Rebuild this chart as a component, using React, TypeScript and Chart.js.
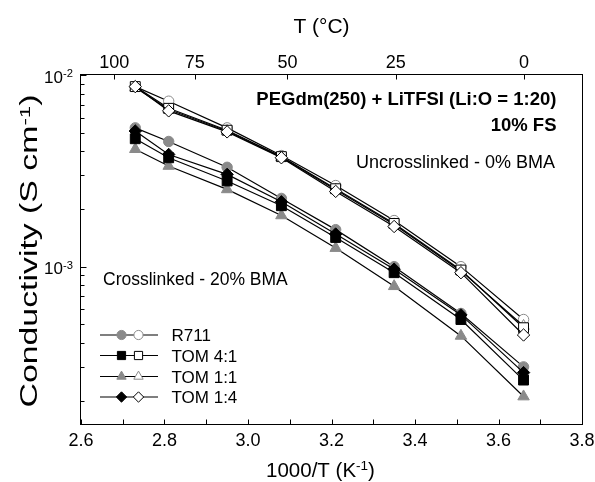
import React, { useEffect, useRef } from 'react';
import { Chart, registerables } from 'chart.js';

Chart.register(...registerables);

// ---- data ----
const invTemp = [2.73, 2.81, 2.95, 3.08, 3.21, 3.35, 3.51, 3.66];
const seriesNames = ['R711', 'TOM 4:1', 'TOM 1:1', 'TOM 1:4'];

// crosslinked (20% BMA) — filled markers
const crossR711 = [5.3e-3, 4.5e-3, 3.3e-3, 2.27e-3, 1.56e-3, 1.0e-3, 5.7e-4, 3.0e-4];
const crossTOM41 = [4.65e-3, 3.7e-3, 2.8e-3, 2.08e-3, 1.42e-3, 9.3e-4, 5.3e-4, 2.56e-4];
const crossTOM11 = [4.1e-3, 3.35e-3, 2.53e-3, 1.85e-3, 1.25e-3, 7.9e-4, 4.35e-4, 2.1e-4];
const crossTOM14 = [5.1e-3, 3.85e-3, 3.03e-3, 2.18e-3, 1.48e-3, 9.7e-4, 5.6e-4, 2.8e-4];

// uncrosslinked (0% BMA) — open markers
const unR711 = [8.7e-3, 7.3e-3, 5.3e-3, 3.8e-3, 2.65e-3, 1.74e-3, 1.0e-3, 5.3e-4];
const unTOM41 = [8.7e-3, 6.7e-3, 5.15e-3, 3.75e-3, 2.55e-3, 1.68e-3, 9.6e-4, 4.8e-4];
const unTOM11 = [8.6e-3, 6.6e-3, 5.1e-3, 3.72e-3, 2.52e-3, 1.66e-3, 9.5e-4, 4.9e-4];
const unTOM14 = [8.7e-3, 6.5e-3, 5.05e-3, 3.7e-3, 2.47e-3, 1.62e-3, 9.3e-4, 4.4e-4];

// ---- ticks ----
const xMajorTicks = [2.6, 2.8, 3.0, 3.2, 3.4, 3.6, 3.8];
const xMinorTicks = [2.7, 2.9, 3.1, 3.3, 3.5, 3.7];
const topTempTicks = [100, 75, 50, 25, 0];
const yDecadeExponents = [-3, -2];
const yMinorMantissas = [2, 3, 4, 5, 6, 7, 8, 9];

const X_MIN = 2.6;
const X_MAX = 3.8;
const Y_MIN = 1.51e-4;
const Y_MAX = 1e-2;

const GRAY = '#8a8a8a';
const FAM = '"Liberation Sans", Arial, Helvetica, sans-serif';

type Marker = { style: string; color: string; r: number; lr: number };
const markers: Marker[] = [
  { style: 'circle', color: GRAY, r: 5.2, lr: 4.6 },
  { style: 'rect', color: '#000', r: 7, lr: 5.8 },
  { style: 'triangle', color: GRAY, r: 6.6, lr: 5.4 },
  { style: 'rectRot', color: '#000', r: 6.2, lr: 5.2 },
];

type Part = { t: string; sup?: boolean };

function drawRich(
  ctx: CanvasRenderingContext2D,
  parts: Part[],
  x: number,
  y: number,
  align: 'left' | 'center' | 'right',
  size: number,
  bold = false,
  stretch = 1
) {
  const w = bold ? 'bold ' : '';
  const supSize = size * 0.66;
  const widths = parts.map((p) => {
    ctx.font = `${w}${p.sup ? supSize : size}px ${FAM}`;
    return ctx.measureText(p.t).width;
  });
  const total = widths.reduce((a, b) => a + b, 0) * stretch;
  let cx = align === 'left' ? x : align === 'center' ? x - total / 2 : x - total;
  ctx.textAlign = 'left';
  ctx.textBaseline = 'alphabetic';
  ctx.fillStyle = '#000';
  parts.forEach((p, i) => {
    ctx.font = `${w}${p.sup ? supSize : size}px ${FAM}`;
    const yy = p.sup ? y - size * 0.32 : y;
    ctx.save();
    ctx.translate(cx, yy);
    ctx.scale(stretch, 1);
    ctx.fillText(p.t, 0, 0);
    ctx.restore();
    cx += widths[i] * stretch;
  });
  return total;
}

function drawMarker(
  ctx: CanvasRenderingContext2D,
  m: Marker,
  x: number,
  y: number,
  r: number,
  filled: boolean
) {
  ctx.beginPath();
  if (m.style === 'circle') {
    ctx.arc(x, y, r, 0, Math.PI * 2);
  } else if (m.style === 'rect') {
    const s = Math.SQRT1_2 * r;
    ctx.rect(x - s, y - s, 2 * s, 2 * s);
  } else if (m.style === 'triangle') {
    ctx.moveTo(x, y - r);
    ctx.lineTo(x + 0.866 * r, y + 0.5 * r);
    ctx.lineTo(x - 0.866 * r, y + 0.5 * r);
    ctx.closePath();
  } else {
    ctx.moveTo(x - r, y);
    ctx.lineTo(x, y - r);
    ctx.lineTo(x + r, y);
    ctx.lineTo(x, y + r);
    ctx.closePath();
  }
  ctx.fillStyle = filled ? m.color : '#fff';
  ctx.fill();
  ctx.strokeStyle = m.color;
  ctx.lineWidth = 1;
  ctx.stroke();
}

const decorPlugin = {
  id: 'decor',
  afterDraw(chart: any) {
    const { ctx, chartArea: a, scales } = chart;
    const xs = scales.x;
    const ys = scales.y;
    ctx.save();
    ctx.strokeStyle = '#000';
    ctx.lineWidth = 1;
    const L = Math.round(a.left) - 0.5;
    const R = Math.round(a.right) + 0.5;
    const T = Math.round(a.top) - 0.5;
    const B = Math.round(a.bottom) + 0.5;
    ctx.strokeRect(L, T, R - L, B - T);

    ctx.beginPath();
    // bottom ticks
    [...xMajorTicks, ...xMinorTicks].forEach((v) => {
      const px = Math.round(xs.getPixelForValue(v)) + 0.5;
      ctx.moveTo(px, B);
      ctx.lineTo(px, B - 5);
    });
    // top ticks (temperature)
    topTempTicks.forEach((t) => {
      const px = Math.round(xs.getPixelForValue(1000 / (t + 273.15))) + 0.5;
      ctx.moveTo(px, T);
      ctx.lineTo(px, T + 5);
    });
    // left ticks
    yDecadeExponents.forEach((e) => {
      const py = Math.round(ys.getPixelForValue(Math.pow(10, e))) + 0.5;
      ctx.moveTo(L, py);
      ctx.lineTo(L + 6, py);
      if (e < -2) {
        yMinorMantissas.forEach((m) => {
          const v = m * Math.pow(10, e);
          const v2 = m * Math.pow(10, e - 1);
          [v, v2].forEach((vv) => {
            if (vv >= Y_MIN && vv <= Y_MAX) {
              const p = Math.round(ys.getPixelForValue(vv)) + 0.5;
              ctx.moveTo(L, p);
              ctx.lineTo(L + 4, p);
            }
          });
        });
      }
    });
    ctx.stroke();

    // bottom tick labels
    xMajorTicks.forEach((v) => {
      drawRich(ctx, [{ t: v.toFixed(1) }], xs.getPixelForValue(v), 445.5, 'center', 18);
    });
    // top tick labels
    topTempTicks.forEach((t) => {
      drawRich(ctx, [{ t: String(t) }], xs.getPixelForValue(1000 / (t + 273.15)), 68, 'center', 18);
    });
    // y tick labels
    yDecadeExponents.forEach((e) => {
      const py = ys.getPixelForValue(Math.pow(10, e));
      drawRich(ctx, [{ t: '10' }, { t: String(e), sup: true }], 73, py + 7.5, 'right', 17);
    });

    // axis titles
    drawRich(ctx, [{ t: 'T (°C)' }], 321.5, 33, 'center', 21);
    drawRich(ctx, [{ t: '1000/T (K' }, { t: '-1', sup: true }, { t: ')' }], 320.5, 477, 'center', 20.5);
    ctx.save();
    ctx.translate(37, 251);
    ctx.rotate(-Math.PI / 2);
    const parts: Part[] = [{ t: 'Conductivity (S cm' }, { t: '-1', sup: true }, { t: ')' }];
    ctx.font = `23px ${FAM}`;
    let nat = 0;
    parts.forEach((p) => {
      ctx.font = `${p.sup ? 23 * 0.66 : 23}px ${FAM}`;
      nat += ctx.measureText(p.t).width;
    });
    drawRich(ctx, parts, 0, 0, 'center', 23, false, 313 / nat);
    ctx.restore();

    // annotations
    drawRich(ctx, [{ t: 'PEGdm(250) + LiTFSI (Li:O = 1:20)' }], 556.5, 104.5, 'right', 18.5, true);
    drawRich(ctx, [{ t: '10% FS' }], 556.5, 130.5, 'right', 18.5, true);
    drawRich(ctx, [{ t: 'Uncrosslinked - 0% BMA' }], 555, 168, 'right', 18);
    drawRich(ctx, [{ t: 'Crosslinked - 20% BMA' }], 103, 285, 'left', 17.5);

    // legend
    const rowMarkerY = [335, 355.5, 376.5, 397];
    seriesNames.forEach((name, i) => {
      const y = rowMarkerY[i];
      ctx.beginPath();
      ctx.strokeStyle = '#000';
      ctx.lineWidth = 1.2;
      ctx.moveTo(100, y);
      ctx.lineTo(158, y);
      ctx.stroke();
      drawMarker(ctx, markers[i], 121.5, y, markers[i].lr, true);
      drawMarker(ctx, markers[i], 138.5, y, markers[i].lr, false);
      drawRich(ctx, [{ t: name }], 171.5, y + 6.3, 'left', 17);
    });
    ctx.restore();
  },
};

function makeDataset(values: number[], mi: number, filled: boolean) {
  const m = markers[mi];
  return {
    label: seriesNames[mi] + (filled ? ' crosslinked' : ' uncrosslinked'),
    data: invTemp.map((x, i) => ({ x, y: values[i] })),
    borderColor: '#000',
    borderWidth: 1.2,
    pointStyle: m.style,
    pointRadius: m.r,
    pointBackgroundColor: filled ? m.color : '#fff',
    pointBorderColor: m.color,
    pointBorderWidth: 1,
    tension: 0,
    fill: false,
  };
}

export default function App() {
  const ref = useRef<HTMLCanvasElement | null>(null);
  useEffect(() => {
    if (!ref.current) return;
    const chart = new Chart(ref.current, {
      type: 'line',
      data: {
        datasets: [
          makeDataset(crossTOM14, 3, true),
          makeDataset(crossTOM41, 1, true),
          makeDataset(crossTOM11, 2, true),
          makeDataset(crossR711, 0, true),
          makeDataset(unTOM14, 3, false),
          makeDataset(unTOM41, 1, false),
          makeDataset(unTOM11, 2, false),
          makeDataset(unR711, 0, false),
        ] as any,
      },
      options: {
        animation: false,
        responsive: false,
        devicePixelRatio: 1,
        layout: { padding: { left: 81, right: 13, top: 75, bottom: 58 } },
        plugins: { legend: { display: false }, tooltip: { enabled: false } },
        scales: {
          x: { type: 'linear', min: X_MIN, max: X_MAX, display: false },
          y: { type: 'logarithmic', min: Y_MIN, max: Y_MAX, display: false },
        },
      } as any,
      plugins: [decorPlugin],
    });
    return () => chart.destroy();
  }, []);
  return (
    <div style={{ position: 'absolute', left: 0, top: 0, width: 595, height: 482, background: '#fff' }}>
      <canvas ref={ref} width={595} height={482} style={{ display: 'block' }} />
    </div>
  );
}
